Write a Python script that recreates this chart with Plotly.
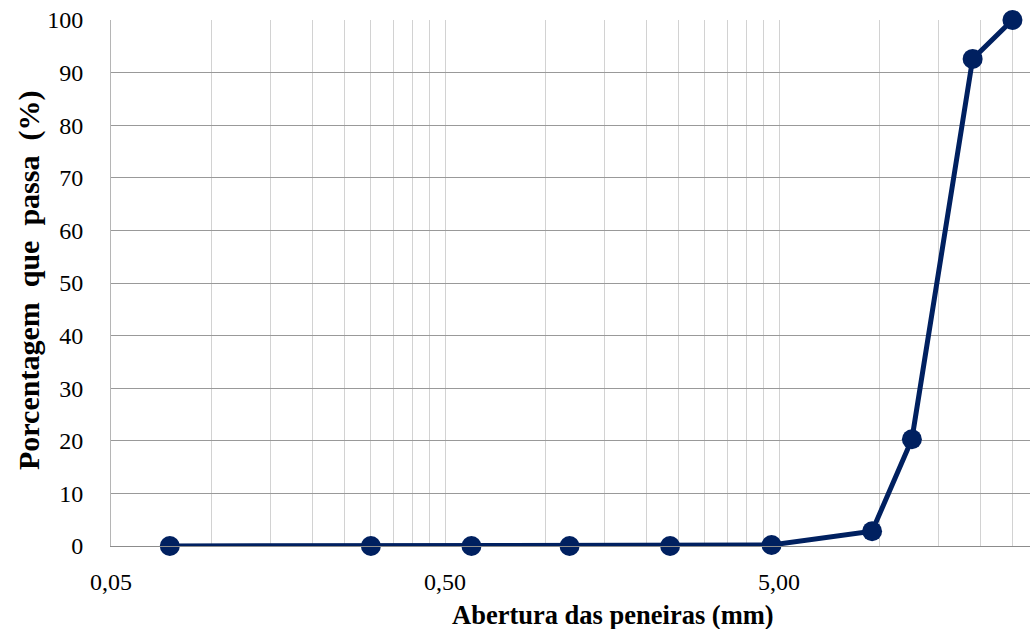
import math
import plotly.graph_objects as go

# Sieve openings (mm) and cumulative percentage passing
abertura_mm = [0.075, 0.3, 0.6, 1.18, 2.36, 4.75, 9.5, 12.5, 19.0, 25.0]
passante_pct = [0.0, 0.0, 0.0, 0.0, 0.0, 0.2, 2.8, 20.3, 92.6, 100.0]

# Log-axis grid: multiples of the base 0.05 in each decade
grid_vals = [0.05, 0.1, 0.15, 0.2, 0.25, 0.3, 0.35, 0.4, 0.45,
             0.5, 1.0, 1.5, 2.0, 2.5, 3.0, 3.5, 4.0, 4.5,
             5.0, 10.0, 15.0, 20.0, 25.0]
labeled = {0.05: "0,05", 0.5: "0,50", 5.0: "5,00"}
grid_text = [labeled.get(v, "") for v in grid_vals]

y_ticks = list(range(0, 101, 10))

navy = "#002060"
serif = "Liberation Serif, Times New Roman, serif"

W, H = 1030, 629
ml, mr, mt, mb = 111, 0, 20, 83
plot_w = W - ml - mr
plot_h = H - mt - mb
px_per_decade = 334.0

fig = go.Figure()
fig.add_trace(go.Scatter(
    x=abertura_mm,
    y=passante_pct,
    mode="lines+markers",
    line=dict(color=navy, width=5),
    marker=dict(color=navy, size=20),
    cliponaxis=False,
    showlegend=False,
))

x0 = math.log10(0.05)
fig.update_xaxes(
    type="log",
    range=[x0, x0 + plot_w / px_per_decade],
    tickmode="array",
    tickvals=grid_vals,
    ticktext=grid_text,
    showgrid=True,
    gridcolor="#d2d2d2",
    gridwidth=1,
    ticks="",
    ticklabelstandoff=14,
    tickfont=dict(family=serif, size=24, color="#000000"),
    showline=True,
    linecolor="#8c8c8c",
    linewidth=1,
    zeroline=False,
)
fig.update_yaxes(
    range=[0, 100],
    tickmode="array",
    tickvals=y_ticks,
    ticktext=[str(v) for v in y_ticks],
    showgrid=True,
    gridcolor="#999999",
    gridwidth=1,
    ticks="",
    ticklabelstandoff=22,
    tickfont=dict(family=serif, size=24, color="#000000"),
    showline=True,
    linecolor="#b5b5b5",
    linewidth=1,
    zeroline=False,
)

fig.add_annotation(
    text="<b>Abertura das peneiras (mm)</b>",
    xref="paper", yref="paper",
    x=(613 - ml) / plot_w, y=-(615 - (mt + plot_h)) / plot_h,
    xanchor="center", yanchor="middle",
    showarrow=False,
    font=dict(family=serif, size=26.5, color="#000000"),
)
fig.add_annotation(
    text="<b>Porcentagem  que  passa  (%)</b>",
    xref="paper", yref="paper",
    x=(29 - ml) / plot_w, y=((mt + plot_h) - 281) / plot_h,
    xanchor="center", yanchor="middle",
    textangle=-90,
    showarrow=False,
    font=dict(family=serif, size=30, color="#000000"),
)

fig.update_layout(
    width=W, height=H,
    margin=dict(l=ml, r=mr, t=mt, b=mb),
    paper_bgcolor="#ffffff",
    plot_bgcolor="#ffffff",
)

fig.write_html("out.html")
